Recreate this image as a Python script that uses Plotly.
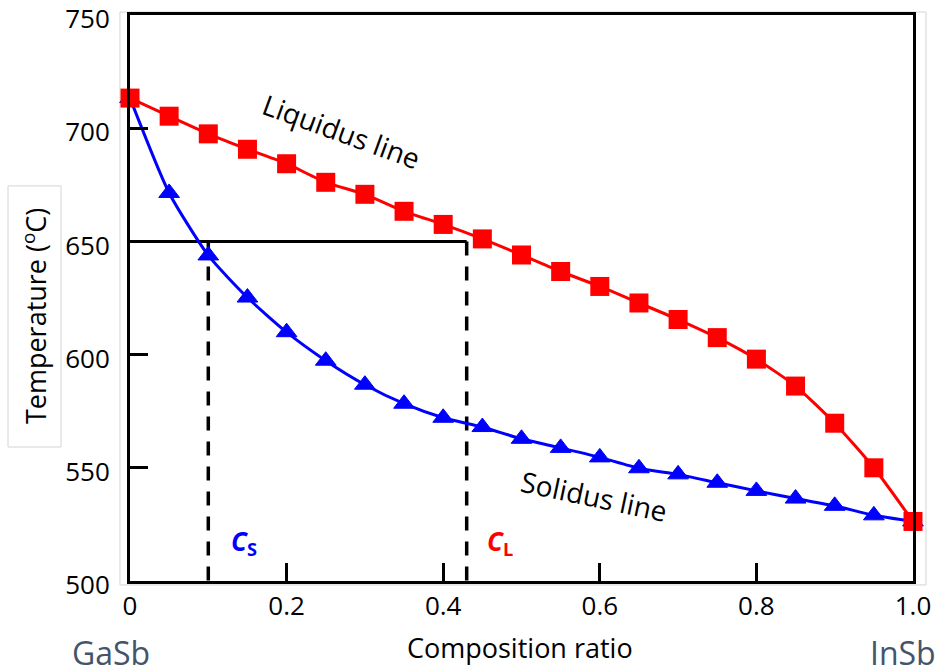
import plotly.graph_objects as go

# GaSb–InSb pseudo-binary phase diagram
composition = [0.00, 0.05, 0.10, 0.15, 0.20, 0.25, 0.30, 0.35, 0.40, 0.45, 0.50,
               0.55, 0.60, 0.65, 0.70, 0.75, 0.80, 0.85, 0.90, 0.95, 1.00]
liquidus_T = [713.3, 705.3, 697.5, 690.7, 684.3, 676.1, 670.8, 663.3, 657.5, 651.1, 644.0,
              636.7, 630.1, 622.8, 615.5, 607.5, 598.0, 586.1, 569.7, 550.0, 526.3]
solidus_T = [713.3, 671.4, 643.8, 625.2, 609.9, 597.3, 586.7, 578.3, 572.1, 568.0, 562.8,
             558.8, 554.6, 549.8, 547.1, 543.4, 539.8, 536.4, 533.2, 529.0, 526.3]

# Tie line at 650 °C and the resulting solid / liquid compositions
tie_T = 650
c_solid = 0.10
c_liquid = 0.43

x_ticks = [0, 0.2, 0.4, 0.6, 0.8, 1.0]
x_tick_text = ["0", "0.2", "0.4", "0.6", "0.8", "1.0"]
y_ticks = [500, 550, 600, 650, 700, 750]

FONT = "Open Sans"
RED = "#ff0000"
BLUE = "#0000ff"

fig = go.Figure()

# tie line and dashed drops to the composition axis
fig.add_trace(go.Scatter(x=[0, c_liquid], y=[tie_T, tie_T], mode="lines",
                         line=dict(color="black", width=3), hoverinfo="skip"))
for c in (c_solid, c_liquid):
    fig.add_trace(go.Scatter(x=[c, c], y=[tie_T, 500], mode="lines",
                             line=dict(color="black", width=3.5, dash="14px,11px"),
                             hoverinfo="skip"))

fig.add_trace(go.Scatter(
    x=composition, y=solidus_T, mode="lines+markers", name="Solidus",
    line=dict(color=BLUE, width=3, shape="spline", smoothing=0.6),
    marker=dict(symbol="triangle-up", size=18, color=BLUE,
                line=dict(color=BLUE, width=1)),
    cliponaxis=False))
fig.add_trace(go.Scatter(
    x=composition, y=liquidus_T, mode="lines+markers", name="Liquidus",
    line=dict(color=RED, width=3, shape="spline", smoothing=0.6),
    marker=dict(symbol="square", size=19, color=RED),
    cliponaxis=False))

axis_common = dict(showline=True, linecolor="black", linewidth=3, mirror=True,
                   ticks="inside", ticklen=18, tickwidth=3, tickcolor="black",
                   showgrid=False, zeroline=False, automargin=False,
                   ticklabeloverflow="allow",
                   tickfont=dict(family=FONT, size=26, color="black"))

fig.update_xaxes(range=[0, 1], tickvals=x_ticks, ticktext=x_tick_text, **axis_common)
fig.update_yaxes(range=[500, 750], tickvals=y_ticks, ticklabelstandoff=12,
                 ticklabelshift=4, **axis_common)

label_font = dict(family=FONT, size=28, color="black")
annotations = [
    dict(text="Liquidus line", x=0.27, y=698.7, xref="x", yref="y", textangle=20,
         showarrow=False, font=label_font),
    dict(text="Solidus line", x=0.593, y=537.6, xref="x", yref="y", textangle=12,
         showarrow=False, font=label_font),
    dict(text="<b><i>C</i></b><sub><b>S</b></sub>", x=0.145, y=517.3, xref="x", yref="y",
         showarrow=False, font=dict(family=FONT, size=26, color=BLUE)),
    dict(text="<b><i>C</i></b><sub><b>L</b></sub>", x=0.472, y=517.3, xref="x", yref="y",
         showarrow=False, font=dict(family=FONT, size=26, color=RED)),
    dict(text="Temperature (<sup>o</sup>C)", x=-0.1226, y=0.468, xref="paper", yref="paper",
         xanchor="center", yanchor="middle", textangle=-90, showarrow=False,
         font=dict(family=FONT, size=27, color="black")),
    dict(text="Composition ratio", x=0.498, y=-0.118, xref="paper", yref="paper",
         xanchor="center", yanchor="middle", showarrow=False,
         font=dict(family=FONT, size=27, color="black")),
    dict(text="GaSb", x=-0.0243, y=-0.126, xref="paper", yref="paper",
         xanchor="center", yanchor="middle", showarrow=False,
         font=dict(family=FONT, size=32, color="#44546a")),
    dict(text="InSb", x=0.9425, y=-0.126, xref="paper", yref="paper",
         xanchor="left", yanchor="middle", showarrow=False,
         font=dict(family=FONT, size=32, color="#44546a")),
]

shapes = [
    # light frame around the plotting region
    dict(type="rect", xref="paper", yref="paper", x0=-0.0128, x1=1.0166, y0=-0.007, y1=1.0053,
         line=dict(color="#d4d4d4", width=1), layer="below"),
    # box around the temperature label
    dict(type="rect", xref="paper", yref="paper", x0=-0.1558, x1=-0.0881, y0=0.2367, y1=0.698,
         line=dict(color="#d4d4d4", width=1)),
]

fig.update_layout(
    width=936, height=670,
    margin=dict(l=130, r=23, t=15, b=89),
    paper_bgcolor="white", plot_bgcolor="white",
    showlegend=False,
    annotations=annotations, shapes=shapes,
    font=dict(family=FONT),
)

fig.write_html("out.html")
